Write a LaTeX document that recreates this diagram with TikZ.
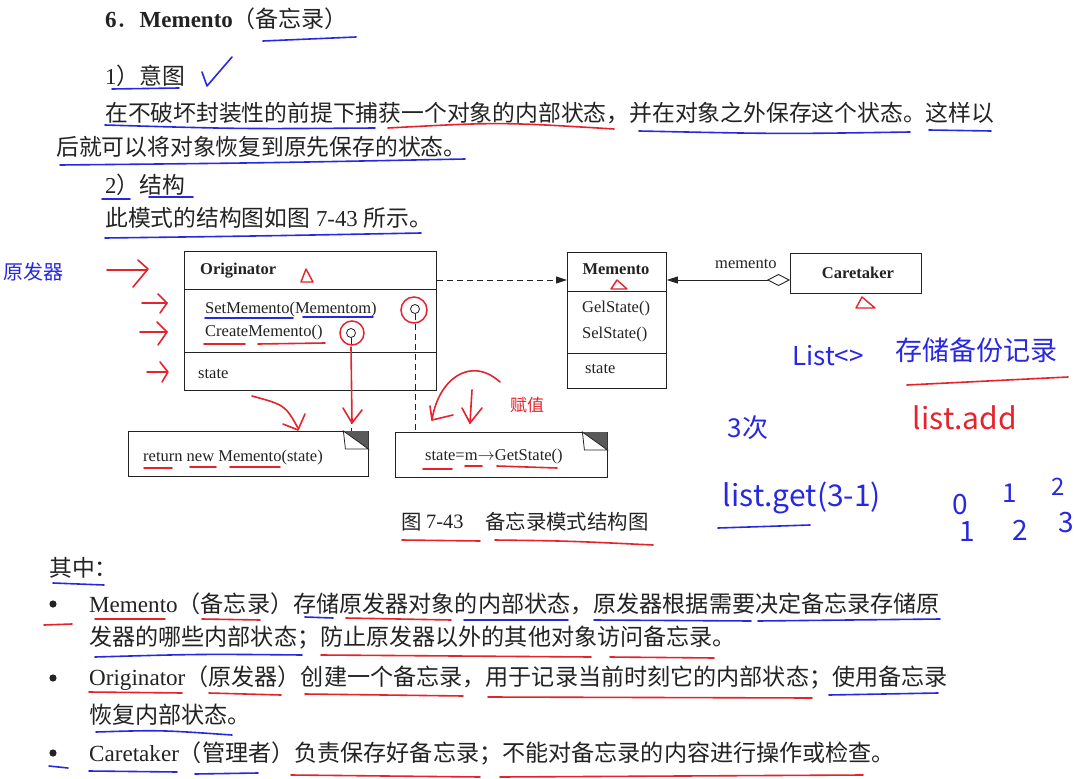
\documentclass[tikz,border=0pt]{standalone}
\usepackage{fontspec}
\setmainfont{Liberation Serif}
\newfontfamily\cjk{Noto Sans CJK SC}
\usetikzlibrary{arrows.meta,calc}
\definecolor{pb}{RGB}{40,40,225}
\definecolor{pr}{RGB}{228,35,45}
\definecolor{ink}{RGB}{35,35,35}
\begin{document}
\begin{tikzpicture}[x=1pt,y=-1pt,
  body/.style={anchor=west,inner sep=0pt,text=ink,font=\fontsize{22.8}{26}\selectfont},
  bodyb/.style={body,font=\fontsize{23.1}{26}\selectfont},
  captxt/.style={anchor=west,inner sep=0pt,text=ink,font=\fontsize{20.4}{24}\selectfont},
  uml/.style={anchor=base west,inner sep=0pt,text=ink,font=\fontsize{16.5}{19}\selectfont},
  umlb/.style={anchor=base,inner sep=0pt,text=ink,font=\fontsize{16.5}{19}\selectfont\bfseries},
  box/.style={draw=ink,line width=0.9pt,inner sep=0pt,anchor=north west},
  notebox/.style={inner sep=0pt,anchor=north west},
  lolli/.style={circle,draw=ink,line width=0.8pt,inner sep=0pt,minimum size=9pt},
  bl/.style={draw=pb,line width=1.6pt,line cap=round,line join=round},
  rd/.style={draw=pr,line width=1.6pt,line cap=round,line join=round},
  hwb/.style={text=pb,inner sep=0pt},
  hwr/.style={text=pr,inner sep=0pt},
  tip/.style={-{Triangle[length=11pt,width=7pt]}}
]
\useasboundingbox (0,0) rectangle (1088,779);
\fill[white] (0,0) rectangle (1088,779);

% ---------- heading and intro text ----------
\node[body,font=\fontsize{23}{26}\selectfont] (h) at (105,19) {\textbf{6}{\cjk ．}\textbf{Memento}{\cjk （备忘录）}};
\node[body] (t1) at (105,76) {1{\cjk ）意图}};
\node[body] (t2) at (105,113) {\cjk 在不破坏封装性的前提下捕获一个对象的内部状态，并在对象之外保存这个状态。这样以};
\node[body] (t3) at (56,147) {\cjk 后就可以将对象恢复到原先保存的状态。};
\node[body] (t4) at (105,185) {2{\cjk ）结构}};
\node[body] (t5) at (105,218) {{\cjk 此模式的结构图如图} 7-43 {\cjk 所示。}};

% ---------- UML diagram ----------
\coordinate (y280) at (0,280);
\node[box,minimum width=252pt,minimum height=139pt] (orig) at (184,251) {};
\draw[ink,line width=0.9pt] (184,289) -- (436,289) (184,352) -- (436,352);
\node[umlb,anchor=base west] (origT) at (200,274) {Originator};
\node[uml] (op1) at (205,313) {SetMemento(Mementom)};
\node[uml] (op2) at (205,336) {CreateMemento()};
\node[uml] (os) at (198,378) {state};

\node[box,minimum width=99pt,minimum height=136pt] (mem) at (567,252) {};
\draw[ink,line width=0.9pt] (567,291) -- (666,291) (567,353) -- (666,353);
\node[umlb] (memT) at (616,274) {Memento};
\node[uml] (mo1) at (582,312) {GelState()};
\node[uml] (mo2) at (582,338) {SelState()};
\node[uml] (ms) at (585,373) {state};

\node[box,minimum width=131pt,minimum height=40pt] (care) at (790,253) {};
\node[umlb] (careT) at (858,278) {Caretaker};
\node[uml] (lab) at (715,268) {memento};

\draw[ink,line width=0.9pt,dash pattern=on 6pt off 4pt,tip] (orig.east |- y280) -- (mem.west |- y280);
\draw[ink,line width=0.9pt,{Triangle[length=11pt,width=7pt]}-{Diamond[open,length=23pt,width=12pt]}] (mem.east |- y280) -- (care.west |- y280);

% notes
\node[notebox,minimum width=240pt,minimum height=45pt] (n1) at (128,431) {};
\node[notebox,minimum width=212pt,minimum height=45pt] (n2) at (395,432) {};
\foreach \n in {n1,n2}{
  \draw[ink,line width=0.9pt] (\n.north west) rectangle (\n.south east);
  \fill[ink!75] ($(\n.north east)+(-25,0)$) -- (\n.north east) -- ($(\n.north east)+(0,18)$) -- cycle;
  \draw[ink,line width=0.8pt,fill=white] ($(\n.north east)+(-25,0)$) -- ($(\n.north east)+(-23,18)$) -- ($(\n.north east)+(0,18)$) -- cycle;
}
\node[uml] (n1t) at (143,461) {return new Memento(state)};
\node[uml] (n2t) at (425,460) {state=m$\rightarrow$GetState()};

\node[lolli] (lp1) at (351,333) {};
\node[lolli] (lp2) at (415,309) {};
\draw[ink,line width=0.8pt,dash pattern=on 6pt off 4pt] (lp1.south) -- (lp1.south |- n1.north);
\draw[ink,line width=0.8pt,dash pattern=on 6pt off 4pt] (lp2.south) -- (lp2.south |- n2.north);

% caption
\node[captxt] (c1) at (401,522) {\cjk 图};
\node[captxt] (c2) at (426,522) {7-43};
\node[captxt] (c3) at (485,522) {\cjk 备忘录模式结构图};

% ---------- lower text ----------
\node[body] (q) at (49,568) {\cjk 其中：};
\foreach \yy in {604,678,753} \fill[ink] (53,\yy) circle[radius=3.6pt];
\node[bodyb] (b1) at (89,604) {Memento{\cjk （备忘录）存储原发器对象的内部状态，原发器根据需要决定备忘录存储原}};
\node[bodyb] (b1b) at (89,638) {\cjk 发器的哪些内部状态；防止原发器以外的其他对象访问备忘录。};
\node[bodyb] (b2) at (89,678) {Originator{\cjk （原发器）创建一个备忘录，用于记录当前时刻它的内部状态；使用备忘录}};
\node[bodyb] (b2b) at (89,715) {\cjk 恢复内部状态。};
\node[bodyb] (b3) at (89,753) {Caretaker{\cjk （管理者）负责保存好备忘录；不能对备忘录的内容进行操作或检查。}};

% ---------- pen annotations: top ----------
\draw[bl] (263,41) -- (356,37);
\draw[bl] (112,89) -- (179,88);
\draw[bl] (202,72) -- (207,86) -- (232,57);
\draw[bl] (105,125) .. controls (240,129) .. (375,128);
\draw[rd] (388,128) .. controls (500,122) .. (614,129);
\draw[bl] (639,131) .. controls (780,134) .. (910,132);
\draw[bl] (929,130) -- (991,131);
\draw[bl] (60,165) .. controls (260,163) .. (465,159);
\draw[bl] (102,199) -- (130,199);
\draw[bl] (149,197) -- (193,197);
\draw[bl] (105,238) .. controls (260,236) .. (421,233);

% ---------- pen annotations: diagram ----------
\node[hwb,font=\cjk\fontsize{20}{20}\selectfont] (hw1) at (33,272) {原发器};
\draw[rd] (107,270) -- (147,270);  \draw[rd] (138,260) -- (148,269) -- (133,287);
\draw[rd] (142,303) -- (167,303);  \draw[rd] (158,294) -- (167,303) -- (160,313);
\draw[rd] (140,332) -- (167,332);  \draw[rd] (157,322) -- (167,332) -- (158,345);
\draw[rd] (147,372) -- (167,372);  \draw[rd] (160,362) -- (168,372) -- (162,382);
\draw[pr,line width=1.4pt,line join=round] (301,282) -- (306,269) -- (313,282) -- cycle;
\draw[pr,line width=1.4pt,line join=round] (611,289) -- (617,280) -- (627,289) -- cycle;
\draw[pr,line width=1.4pt,line join=round] (856,308) -- (862,297) -- (875,308) -- cycle;
\draw[bl] (205,318) -- (293,318);
\draw[bl] (303,317) -- (373,317);
\draw[rd] (204,344) -- (245,344);
\draw[rd] (258,344) -- (325,343);
\draw[pr,line width=1.5pt] (352,333) circle[radius=12pt];
\draw[pr,line width=1.5pt] (414,310) circle[radius=13pt];
\draw[rd] (351,347) -- (352,422);  \draw[rd] (343,408) -- (352,423) -- (362,410);
\draw[rd] (252,396) .. controls (285,405) .. (298,428);  \draw[rd] (283,424) -- (298,430) -- (305,414);
\draw[rd] (500,382) .. controls (470,355) and (438,380) .. (432,420);  \draw[rd] (430,406) -- (432,420) -- (453,415);
\draw[rd] (472,390) -- (470,423);  \draw[rd] (462,408) -- (470,423) -- (482,408);
\node[hwr,font=\cjk\fontsize{17}{17}\selectfont] (hw2) at (527,405) {赋值};
\draw[rd] (144,468) -- (172,468);
\draw[rd] (190,467) -- (216,467);
\draw[rd] (230,467) -- (280,467);
\draw[rd] (423,469) -- (452,469);
\draw[rd] (465,466) -- (482,466);
\draw[rd] (497,466) -- (557,468);

% ---------- pen annotations: right side ----------
\node[hwb,font=\cjk\fontsize{26}{26}\selectfont] (hw3) at (828,356) {List<>};
\node[hwb,font=\cjk\fontsize{27}{27}\selectfont] (hw4) at (976,350) {存储备份记录};
\draw[rd] (907,385) -- (1068,377);
\node[hwr,font=\cjk\fontsize{30}{30}\selectfont] (hw5) at (965,418) {list.add};
\node[hwb,font=\cjk\fontsize{26}{26}\selectfont] (hw6) at (748,428) {3次};
\node[hwb,font=\cjk\fontsize{30}{30}\selectfont] (hw7) at (802,498) {list.get(3-1)};
\draw[bl] (718,528) -- (810,525);
\node[hwb,font=\cjk\fontsize{28}{28}\selectfont] (d0) at (960,505) {0};
\node[hwb,font=\cjk\fontsize{26}{26}\selectfont] (d1) at (1010,493) {1};
\node[hwb,font=\cjk\fontsize{24}{24}\selectfont] (d2) at (1058,487) {2};
\node[hwb,font=\cjk\fontsize{28}{28}\selectfont] (e1) at (967,532) {1};
\node[hwb,font=\cjk\fontsize{28}{28}\selectfont] (e2) at (1020,530) {2};
\node[hwb,font=\cjk\fontsize{28}{28}\selectfont] (e3) at (1066,523) {3};

% ---------- pen annotations: lower text ----------
\draw[rd] (402,540) -- (480,541);
\draw[rd] (495,540) .. controls (570,541) .. (653,545);
\draw[bl] (53,583) -- (104,585);
\draw[rd] (44,625) -- (72,624);
\draw[rd] (95,619) -- (165,619);
\draw[rd] (202,619) -- (260,620);
\draw[bl] (305,617) -- (333,618);
\draw[rd] (346,618) -- (451,620);
\draw[bl] (464,620) -- (568,620);
\draw[bl] (594,620) -- (751,621);
\draw[bl] (758,621) -- (940,619);
\draw[bl] (95,657) .. controls (200,654) .. (302,655);
\draw[rd] (321,655) -- (591,657);
\draw[rd] (610,657) -- (714,658);
\draw[rd] (89,692) -- (182,693);
\draw[rd] (209,693) -- (281,695);
\draw[rd] (305,694) -- (463,696);
\draw[rd] (488,697) -- (812,698);
\draw[bl] (829,695) -- (938,693);
\draw[bl] (96,732) .. controls (160,730) .. (232,735);
\draw[bl] (49,766) -- (68,768);
\draw[bl] (89,771) -- (177,772);
\draw[bl] (195,774) -- (258,773);
\draw[rd] (291,775) -- (480,777);
\draw[rd] (500,777) -- (863,775);
\end{tikzpicture}
\end{document}
